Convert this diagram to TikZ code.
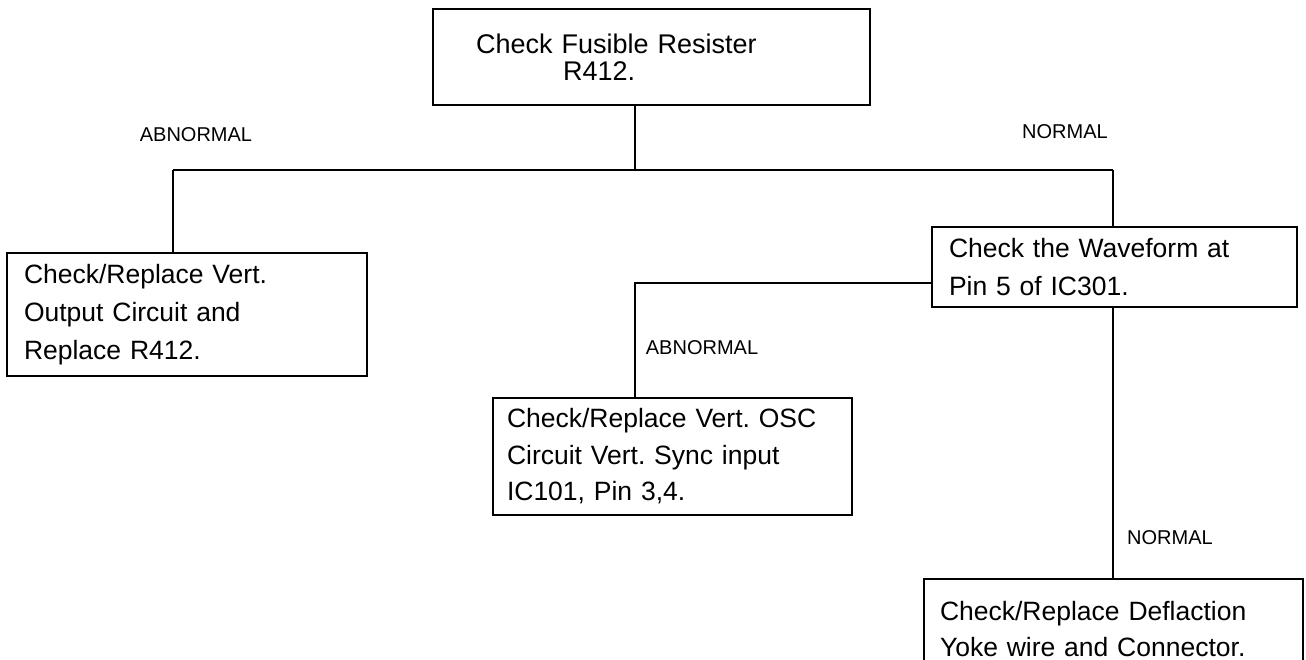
\documentclass[tikz,border=0pt]{standalone}
\usepackage{fontspec}
\setmainfont{Liberation Sans}
\usepackage{tikz}
\usetikzlibrary{positioning}

\newcommand{\boxfont}{\fontsize{26.5}{38}\selectfont}
\newcommand{\tagfont}{\fontsize{20}{24}\selectfont}
\frenchspacing

\begin{document}
\begin{tikzpicture}[
      x=1pt, y=-1pt,
      every node/.style={font=\boxfont},
      stepbox/.style={draw, line width=1.3pt, align=left, inner xsep=17pt, inner ysep=0pt},
      tag/.style={font=\tagfont, inner sep=0pt},
      wire/.style={line width=1.6pt}
    ]

    \useasboundingbox (0,0) rectangle (1306,660);

    % Start check
    \node[
      stepbox,
      inner xsep=43pt,
      text width=351pt,
      minimum height=96pt,
      font=\fontsize{27}{26.5}\selectfont
    ] (fuse) at (651.5, 57) {Check Fusible Resister\\\hspace*{87pt}R412.};

    % First outcomes
    \node[
      stepbox,
      text width=326pt,
      minimum height=123pt
    ] (vout) at (187, 314.5) {Check/Replace Vert.\\Output Circuit and\\Replace R412.};

    \node[
      stepbox,
      text width=331pt,
      minimum height=80pt
    ] (wave) at (1114.5, 267) {Check the Waveform at\\Pin 5 of IC301.};

    % Second outcomes
    \node[
      stepbox,
      inner xsep=14pt,
      text width=331pt,
      minimum height=117pt,
      font=\fontsize{26.5}{36.5}\selectfont
    ] (osc) at (672.5, 456.5) {Check/Replace Vert. OSC\\Circuit Vert. Sync input\\IC101, Pin 3,4.};

    \node[
      stepbox,
      inner xsep=16pt,
      text width=347pt,
      minimum height=100pt,
      font=\fontsize{26.5}{36}\selectfont
    ] (yoke) at (1113.5, 629) {Check/Replace Deflaction\\Yoke wire and Connector.};

    % Branch points
    \coordinate (hub) at (635, 170);
    \coordinate (hubL) at (173, 170);
    \coordinate (hubR) at (1113, 170);
    \coordinate (tee) at (635, 283);

    % Lines
    \draw[wire] (fuse.south -| hub) -- (hub);
    \draw[wire] (hubL) -- (hubR);
    \draw[wire] (hubL) -- (vout.north -| hubL);
    \draw[wire] (hubR) -- (wave.north -| hubR);
    \draw[wire] (wave.west |- tee) -- (tee) -- (osc.north -| tee);
    \draw[wire] (wave.south -| hubR) -- (yoke.north -| hubR);

    % Labels
    \node[tag] (abn1) at (196, 135) {ABNORMAL};
    \node[tag] (nor1) at (1065, 132) {NORMAL};
    \node[tag] (abn2) at (702, 348) {ABNORMAL};
    \node[tag] (nor2) at (1170, 538) {NORMAL};

  \end{tikzpicture}
\end{document}
